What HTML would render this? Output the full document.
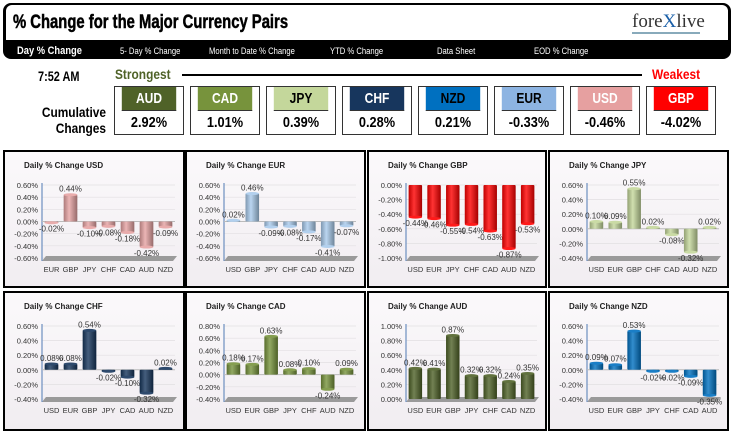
<!DOCTYPE html>
<html><head><meta charset="utf-8">
<style>
body{margin:0;width:736px;height:433px;background:#fff;position:relative;overflow:hidden;font-family:"Liberation Sans",sans-serif}
.abs{position:absolute}
#hdr{left:3px;top:3px;width:728px;height:56px;background:#000;border-radius:8px}
#hdr-w{left:6px;top:5px;width:722px;height:35px;background:#fff;border-radius:6px 6px 0 0}
.tab{top:43px;color:#fff;font-size:9px;transform:scaleX(.85);transform-origin:left}
.box{width:68px;height:47px;border:1px solid #333;}
.box .top{height:23px;border-bottom:1px solid #333;color:#fff;font-weight:bold;font-size:15px;text-align:center;line-height:23px;transform:scaleX(.8)}
.box .bot{height:23px;text-align:center;font-weight:bold;font-size:15px;line-height:23px;background:#fff}
.panel{border:2px solid #000;background:linear-gradient(#fbf9fb,#f1edf1)}
svg text{font-family:"Liberation Sans",sans-serif}
</style></head><body>
<div id="hdr" class="abs"></div>
<div id="hdr-w" class="abs"></div>
<div class="abs" style="left:13px;top:12px;font-size:19px;font-weight:bold;transform:scaleX(.78);transform-origin:left;white-space:nowrap;-webkit-text-stroke:0.5px #000">% Change for the Major Currency Pairs</div>
<div class="abs" style="left:632px;top:11px;font-family:'Liberation Serif',serif;font-size:19px;color:#333">fore<span style="color:#1a5fa8">X</span>live</div>
<div class="abs" style="left:632px;top:32px;width:68px;height:2px;background:#8ab"></div>
<div class="abs tab" style="left:17px;font-size:11px;font-weight:bold;top:45px">Day % Change</div>
<div class="abs tab" style="left:120px;top:46px">5- Day % Change</div>
<div class="abs tab" style="left:209px;top:46px">Month to Date % Change</div>
<div class="abs tab" style="left:330px;top:46px">YTD % Change</div>
<div class="abs tab" style="left:437px;top:46px">Data Sheet</div>
<div class="abs tab" style="left:534px;top:46px">EOD % Change</div>

<div class="abs" style="left:38px;top:68px;font-size:14px;font-weight:bold;transform:scaleX(.78);transform-origin:left">7:52 AM</div>
<div class="abs" style="left:115px;top:66px;font-size:14px;font-weight:bold;color:#4f6228;transform:scaleX(.85);transform-origin:left">Strongest</div>
<div class="abs" style="left:182px;top:74px;width:460px;height:2px;background:#000"></div>
<div class="abs" style="left:652px;top:66px;font-size:14px;font-weight:bold;color:#f00;transform:scaleX(.85);transform-origin:left">Weakest</div>
<div class="abs" style="left:26px;top:104px;width:80px;text-align:right;font-size:14px;font-weight:bold;line-height:16px;transform:scaleX(.85);transform-origin:right">Cumulative<br>Changes</div>
<div id="boxes"></div>

<div id="panels"></div>

<script>
const rankNames=['AUD','CAD','JPY','CHF','NZD','EUR','USD','GBP'];
const rankValues=['2.92%','1.01%','0.39%','0.28%','0.21%','-0.33%','-0.46%','-4.02%'];
const rankColors=['#4f6228','#77933c','#c4d79b','#17365d','#0070c0','#8db4e2','#e6a0a0','#ff0000'];
const rankText=['#fff','#fff','#000','#fff','#000','#000','#fff','#fff'];

const usdCats=['EUR','GBP','JPY','CHF','CAD','AUD','NZD'];
const usdVals=[-0.02,0.44,-0.10,-0.08,-0.18,-0.42,-0.09];
const eurCats=['USD','GBP','JPY','CHF','CAD','AUD','NZD'];
const eurVals=[0.02,0.46,-0.09,-0.08,-0.17,-0.41,-0.07];
const gbpCats=['USD','EUR','JPY','CHF','CAD','AUD','NZD'];
const gbpVals=[-0.44,-0.46,-0.55,-0.54,-0.63,-0.87,-0.53];
const jpyCats=['USD','EUR','GBP','CHF','CAD','AUD','NZD'];
const jpyVals=[0.10,0.09,0.55,0.02,-0.08,-0.32,0.02];
const chfCats=['USD','EUR','GBP','JPY','CAD','AUD','NZD'];
const chfVals=[0.08,0.08,0.54,-0.02,-0.10,-0.32,0.02];
const cadCats=['USD','EUR','GBP','JPY','CHF','AUD','NZD'];
const cadVals=[0.18,0.17,0.63,0.08,0.10,-0.24,0.09];
const audCats=['USD','EUR','GBP','JPY','CHF','CAD','NZD'];
const audVals=[0.42,0.41,0.87,0.32,0.32,0.24,0.35];
const nzdCats=['USD','EUR','GBP','JPY','CHF','CAD','AUD'];
const nzdVals=[0.09,0.07,0.53,-0.02,-0.02,-0.09,-0.35];
const usdTicks=[-0.6,-0.4,-0.2,0,0.2,0.4,0.6];
const eurTicks=[-0.6,-0.4,-0.2,0,0.2,0.4,0.6];
const gbpTicks=[-1.0,-0.8,-0.6,-0.4,-0.2,0];
const jpyTicks=[-0.4,-0.2,0,0.2,0.4,0.6];
const chfTicks=[-0.4,-0.2,0,0.2,0.4,0.6];
const cadTicks=[-0.4,-0.2,0,0.2,0.4,0.6,0.8];
const audTicks=[0,0.2,0.4,0.6,0.8,1.0];
const nzdTicks=[-0.4,-0.2,0,0.2,0.4,0.6];

const boxes=document.getElementById('boxes');
rankNames.forEach((n,i)=>{
  const b=document.createElement('div');
  b.className='abs box';
  b.style.left=(114+i*76)+'px';b.style.top='86px';
  
  
  b.innerHTML='<div class="top" style="background:'+rankColors[i]+';color:'+rankText[i]+'">'+n+'</div><div class="bot" style="transform:scaleX(.85)">'+rankValues[i]+'</div>';
  boxes.appendChild(b);
});

const NS='http://www.w3.org/2000/svg';
function el(t,a,p){const e=document.createElementNS(NS,t);for(const k in a)e.setAttribute(k,a[k]);p.appendChild(e);return e;}
function shade(hex,f){let c=parseInt(hex.slice(1),16);let r=c>>16,g=(c>>8)&255,b=c&255;
  const m=v=>Math.max(0,Math.min(255,Math.round(f<0?v*(1+f):v+(255-v)*f)));return 'rgb('+m(r)+','+m(g)+','+m(b)+')';}

const charts=[
 {id:'usd',title:'Daily % Change USD',cats:usdCats,vals:usdVals,ticks:usdTicks,color:'#e6a3a3',x:3,y:150,w:178,h:134},
 {id:'eur',title:'Daily % Change EUR',cats:eurCats,vals:eurVals,ticks:eurTicks,color:'#a9cbec',x:185,y:150,w:177,h:134},
 {id:'gbp',title:'Daily % Change GBP',cats:gbpCats,vals:gbpVals,ticks:gbpTicks,color:'#ff0000',x:367,y:150,w:176,h:134},
 {id:'jpy',title:'Daily % Change JPY',cats:jpyCats,vals:jpyVals,ticks:jpyTicks,color:'#c4d79b',x:548,y:150,w:177,h:134},
 {id:'chf',title:'Daily % Change CHF',cats:chfCats,vals:chfVals,ticks:chfTicks,color:'#17365d',x:3,y:291,w:178,h:136},
 {id:'cad',title:'Daily % Change CAD',cats:cadCats,vals:cadVals,ticks:cadTicks,color:'#77933c',x:185,y:291,w:177,h:136},
 {id:'aud',title:'Daily % Change AUD',cats:audCats,vals:audVals,ticks:audTicks,color:'#4f6228',x:367,y:291,w:176,h:136},
 {id:'nzd',title:'Daily % Change NZD',cats:nzdCats,vals:nzdVals,ticks:nzdTicks,color:'#0070c0',x:548,y:291,w:177,h:136}
];
const panels=document.getElementById('panels');
charts.forEach(c=>{
  const d=document.createElement('div');
  d.className='abs panel';
  d.style.cssText+='left:'+c.x+'px;top:'+c.y+'px;width:'+c.w+'px;height:'+c.h+'px';
  
  
  panels.appendChild(d);
  const s=el('svg',{width:c.w,height:c.h},d);
  const defs=el('defs',{},s);
  const g=el('linearGradient',{id:'g'+c.id,x1:0,x2:1,y1:0,y2:0},defs);
  el('stop',{offset:'0',['stop-color']:shade(c.color,-0.25)},g);
  el('stop',{offset:'0.4',['stop-color']:shade(c.color,0.2)},g);
  el('stop',{offset:'1',['stop-color']:shade(c.color,-0.35)},g);
  const t=el('text',{x:19,y:16,['font-size']:8,['font-weight']:'bold',fill:'#222'},s);t.textContent=c.title;
  
  
  const ax=37,x1=c.w-8,top=33,bot=106;
  const mn=c.ticks[0],mx=c.ticks[c.ticks.length-1];
  const Y=v=>bot-(v-mn)/(mx-mn)*(bot-top);
  const step=(x1-ax)/c.cats.length;
  const X=i=>ax+step*(i+0.5);
  c.ticks.forEach(tv=>{
    el('line',{x1:ax,x2:x1,y1:Y(tv),y2:Y(tv),stroke:'#e2dfe2','stroke-width':0.7},s);
    const tl=el('text',{x:ax-4,y:Y(tv)+3,['font-size']:7.5,['text-anchor']:'end',fill:'#333'},s);
    tl.textContent=tv.toFixed(2)+'%';
    
    
  });
  el('polygon',{points:(ax)+','+(bot+3)+' '+(ax+4)+','+(bot-2)+' '+(x1+2)+','+(bot-2)+' '+(x1-2)+','+(bot+3),fill:'#9a9a9a'},s);
  el('line',{x1:ax,x2:ax,y1:top-2,y2:bot+3,stroke:'#6c8ebf','stroke-width':1.2},s);
  if(mn<0&&mx>0) el('line',{x1:ax,x2:x1,y1:Y(0),y2:Y(0),stroke:'#bbb','stroke-width':1},s);
  const bw=step*0.72;
  c.cats.forEach((cat,i)=>{
    const v=c.vals[i];const y0=Y(0),yv=Y(v);
    const r=el('rect',{x:X(i)-bw/2,y:Math.min(y0,yv),width:bw,height:Math.max(1.5,Math.abs(yv-y0)),fill:'url(#g'+c.id+')',rx:1},s);
    
    
    el('ellipse',{cx:X(i),cy:yv,rx:bw/2,ry:1.5,fill:shade(c.color,0.1)},s);
    const lt=el('text',{x:X(i),y:v>=0?yv-3:yv+9,['font-size']:8,['text-anchor']:'middle',fill:'#333'},s);
    lt.textContent=v.toFixed(2)+'%';
    
    
    const cl=el('text',{x:X(i),y:bot+14,['font-size']:7.5,['text-anchor']:'middle',fill:'#333'},s);
    cl.textContent=cat;
    
    
  });
});
</script>
</body></html>
